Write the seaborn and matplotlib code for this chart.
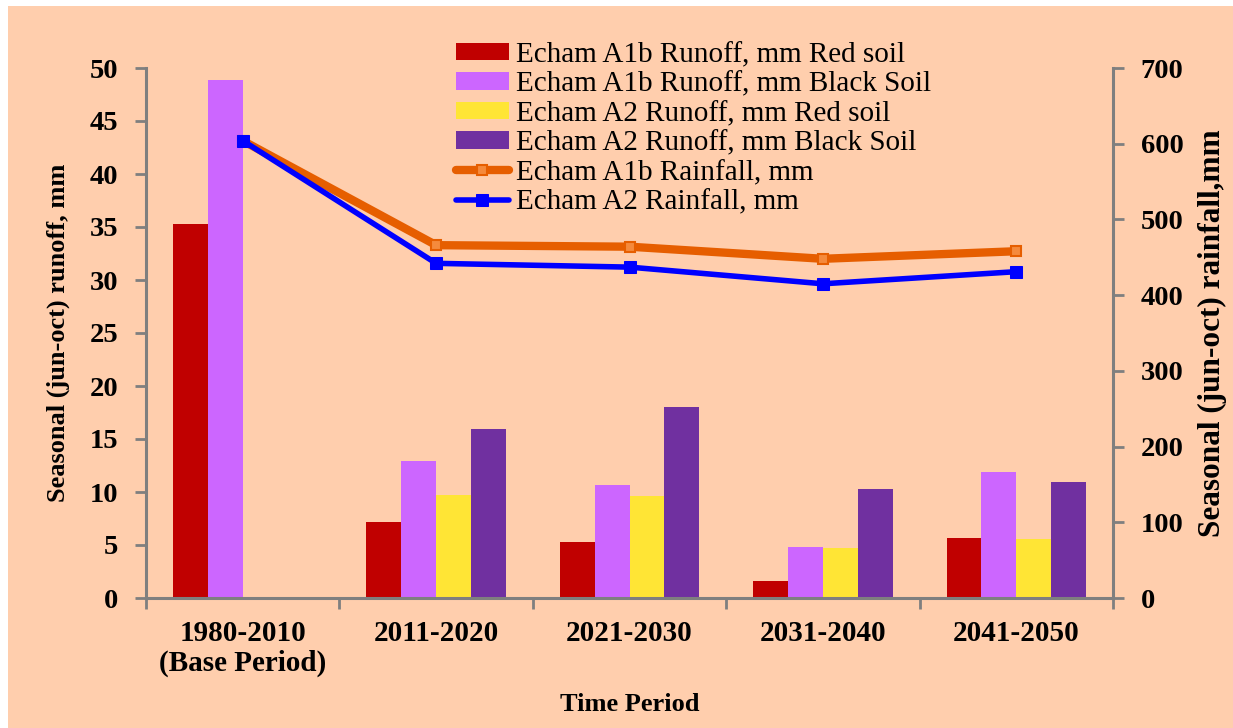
import numpy as np
import pandas as pd
import matplotlib
matplotlib.use("Agg")
import matplotlib.pyplot as plt
import seaborn as sns
from matplotlib.patches import Rectangle

# ---- data ----
periods = ["1980-2010\n(Base Period)", "2011-2020", "2021-2030", "2031-2040", "2041-2050"]
series_names = [
    "Echam A1b Runoff, mm Red soil",
    "Echam A1b Runoff, mm Black Soil",
    "Echam A2 Runoff, mm Red soil",
    "Echam A2 Runoff, mm Black Soil",
]
runoff_a1b_red = [35.3, 7.2, 5.3, 1.6, 5.7]
runoff_a1b_black = [48.9, 12.9, 10.7, 4.8, 11.9]
runoff_a2_red = [0.0, 9.7, 9.6, 4.7, 5.6]
runoff_a2_black = [0.0, 15.9, 18.0, 10.3, 10.9]
rain_a1b = [604, 466, 464, 448, 458]
rain_a2 = [604, 442, 437, 415, 431]
rain_names = ["Echam A1b Rainfall, mm", "Echam A2 Rainfall, mm"]

bar_colors = ["#C00000", "#CC66FF", "#FFE535", "#7030A0"]
orange = "#E65E00"
blue = "#0000FF"
peach = "#FFCEAD"
grey = "#7F7F7F"

# long-form table for the grouped bars
runoff = pd.DataFrame({
    "period": np.repeat(periods, 4),
    "series": series_names * len(periods),
    "value": np.column_stack([runoff_a1b_red, runoff_a1b_black,
                              runoff_a2_red, runoff_a2_black]).ravel(),
})

sns.set_theme(style="ticks")
plt.rcParams["font.family"] = ["Liberation Serif", "DejaVu Serif"]
plt.rcParams["font.weight"] = "bold"
plt.rcParams["axes.labelweight"] = "bold"
for key in ("text.color", "axes.labelcolor", "xtick.labelcolor", "ytick.labelcolor"):
    plt.rcParams[key] = "black"

W, H = 1233, 728
fig = plt.figure(figsize=(W / 100, H / 100), dpi=100)
fig.patch.set_facecolor("white")
fig.add_artist(Rectangle((8 / W, 0), 1 - 8 / W, 1 - 6 / H, transform=fig.transFigure,
                         facecolor=peach, edgecolor="none", zorder=-5))

ax = fig.add_axes([146 / W, 1 - 598 / H, (1113 - 146) / W, (598 - 68) / H])
ax.set_facecolor("none")

sns.barplot(data=runoff, x="period", y="value", hue="series", hue_order=series_names,
            order=periods, palette=bar_colors, saturation=1, width=0.72,
            linewidth=0, ax=ax)
bar_handles, bar_labels = ax.get_legend_handles_labels()
ax.get_legend().remove()

ax2 = ax.twinx()
ax2.set_facecolor("none")
xpos = np.arange(len(periods))
sns.lineplot(x=xpos, y=rain_a1b, ax=ax2, color=orange, linewidth=6, marker="s",
             markersize=7, markerfacecolor="#F58A3C", markeredgecolor=orange,
             markeredgewidth=1.5, label=rain_names[0], sort=False)
sns.lineplot(x=xpos, y=rain_a2, ax=ax2, color=blue, linewidth=4, marker="s",
             markersize=9, markerfacecolor=blue, markeredgecolor=blue,
             label=rain_names[1], sort=False)
line_handles, line_labels = ax2.get_legend_handles_labels()
ax2.get_legend().remove()

# axes limits and ticks
ax.set_xlim(-0.5, len(periods) - 0.5)
ax.set_ylim(0, 50)
ax2.set_ylim(0, 700)
ax.set_yticks(np.arange(0, 51, 5))
ax2.set_yticks(np.arange(0, 701, 100))
ax.set_xticks(xpos)
ax.set_xticklabels(periods, fontsize=21, linespacing=1.1)
ax.set_xticks(np.arange(-0.5, len(periods), 1), minor=True)

ax.tick_params(axis="x", which="major", length=0, pad=16, labelsize=21)
ax.tick_params(axis="x", which="minor", length=8, width=2, color=grey, direction="out")
ax.tick_params(axis="y", length=8, width=2, color=grey, direction="out", pad=12, labelsize=20.5)
ax2.tick_params(axis="y", length=8, width=2, color=grey, direction="out", pad=12, labelsize=20.5)

for sp in ("left", "bottom"):
    ax.spines[sp].set_color(grey)
    ax.spines[sp].set_linewidth(2.2)
ax.spines["top"].set_visible(False)
ax.spines["right"].set_visible(False)
ax2.spines["right"].set_color(grey)
ax2.spines["right"].set_linewidth(2.2)
for sp in ("top", "left", "bottom"):
    ax2.spines[sp].set_visible(False)

ax.set_xlabel("Time Period", fontsize=19, fontweight="bold", labelpad=12)
ax.set_ylabel("Seasonal (jun-oct) runoff, mm", fontsize=19, fontweight="bold", labelpad=14)
ax2.set_ylabel("Seasonal (jun-oct) rainfall,mm", fontsize=22.5, fontweight="bold", labelpad=10)

fig.legend(bar_handles + line_handles, bar_labels + line_labels,
           loc="upper left", bbox_to_anchor=(456 / W, 1 - 42 / H),
           frameon=False, prop={"family": "Liberation Serif", "weight": "normal", "size": 21},
           handlelength=1.8, handleheight=0.55, handletextpad=0.25,
           labelspacing=0.12, borderaxespad=0, borderpad=0)

fig.savefig("out.png", dpi=100, facecolor=fig.get_facecolor())
